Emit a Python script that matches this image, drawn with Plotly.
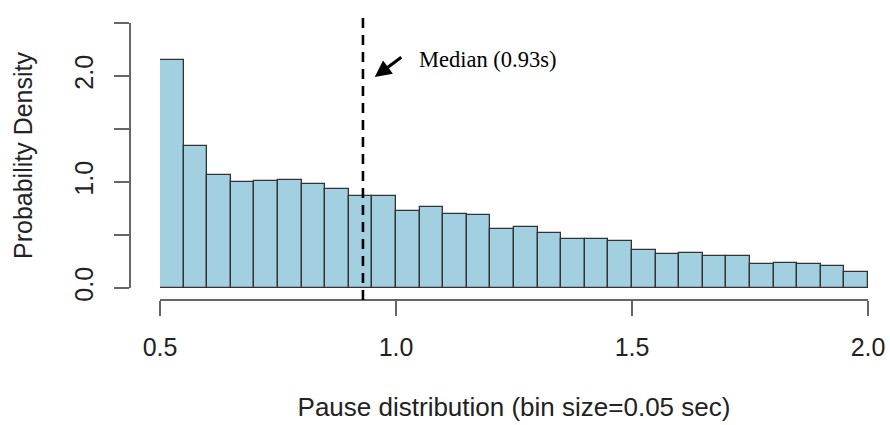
import plotly.graph_objects as go

# ---- data ----
bin_starts = [0.50, 0.55, 0.60, 0.65, 0.70, 0.75, 0.80, 0.85, 0.90, 0.95,
              1.00, 1.05, 1.10, 1.15, 1.20, 1.25, 1.30, 1.35, 1.40, 1.45,
              1.50, 1.55, 1.60, 1.65, 1.70, 1.75, 1.80, 1.85, 1.90, 1.95]
density = [2.15, 1.34, 1.07, 1.00, 1.01, 1.02, 0.98, 0.93, 0.87, 0.87,
           0.73, 0.76, 0.70, 0.69, 0.56, 0.58, 0.52, 0.46, 0.46, 0.44,
           0.36, 0.32, 0.33, 0.30, 0.30, 0.23, 0.24, 0.23, 0.21, 0.15]
bin_size = 0.05
median = 0.93
x_tick_vals = [0.5, 1.0, 1.5, 2.0]
x_tick_text = ["0.5", "1.0", "1.5", "2.0"]
y_tick_vals = [0.0, 0.5, 1.0, 1.5, 2.0, 2.5]
y_tick_text = ["0.0", "", "1.0", "", "2.0", ""]

W, H = 890, 425
font_sans = "Liberation Sans, Arial, Helvetica, sans-serif"
font_serif = "Liberation Serif, Times New Roman, serif"
axis_col = "#666666"
text_col = "#222222"

fig = go.Figure()
fig.add_trace(go.Bar(
    x=bin_starts, y=density, width=bin_size, offset=0,
    marker=dict(color="#a3d0e1", line=dict(color="#333333", width=1.3)),
    cliponaxis=False, showlegend=False, hoverinfo="x+y",
))

# median dashed line (spans from top down to x-axis line)
fig.add_shape(type="line", xref="x", yref="paper",
              x0=median, x1=median, y0=(H - 300) / H, y1=(H - 13) / H,
              line=dict(color="black", width=2.6, dash="10px,7px"), layer="above")

# arrow pointing to median line
fig.add_annotation(x=0.955, y=1.99, xref="x", yref="y", text="",
                   showarrow=True, ax=28, ay=-21, arrowhead=2, arrowsize=1.1,
                   arrowwidth=3, arrowcolor="black")
fig.add_annotation(x=1.044, y=2.16, xref="x", yref="y", text="Median (0.93s)",
                   showarrow=False, xanchor="left", yanchor="middle",
                   font=dict(family=font_serif, size=22.5, color="black"))

fig.update_layout(
    width=W, height=H,
    margin=dict(l=0, r=0, t=0, b=0, autoexpand=False),
    paper_bgcolor="white", plot_bgcolor="white",
    bargap=0,
    xaxis=dict(
        domain=[160 / W, 868 / W], range=[0.5, 2.0],
        anchor="free", position=(H - 300) / H, automargin=False,
        showline=True, linecolor=axis_col, linewidth=1.5,
        ticks="outside", ticklen=15, tickwidth=1.5, tickcolor=axis_col,
        tickvals=x_tick_vals, ticktext=x_tick_text, ticklabelstandoff=10,
        tickfont=dict(family=font_sans, size=25, color=text_col),
        showgrid=False, zeroline=False,
        title=dict(text="Pause distribution (bin size=0.05 sec)",
                   font=dict(family=font_sans, size=26, color=text_col),
                   standoff=37),
    ),
    yaxis=dict(
        domain=[(H - 288) / H, (H - 23) / H], range=[0, 2.5],
        anchor="free", position=130 / W, automargin=False,
        showline=True, linecolor=axis_col, linewidth=1.5,
        ticks="outside", ticklen=15, tickwidth=1.5, tickcolor=axis_col,
        tickvals=y_tick_vals, ticktext=y_tick_text, tickangle=-90,
        ticklabelstandoff=11,
        tickfont=dict(family=font_sans, size=25, color=text_col),
        showgrid=False, zeroline=False,
        title=dict(text="Probability Density",
                   font=dict(family=font_sans, size=25, color=text_col),
                   standoff=30),
    ),
)

fig.write_html("out.html")
